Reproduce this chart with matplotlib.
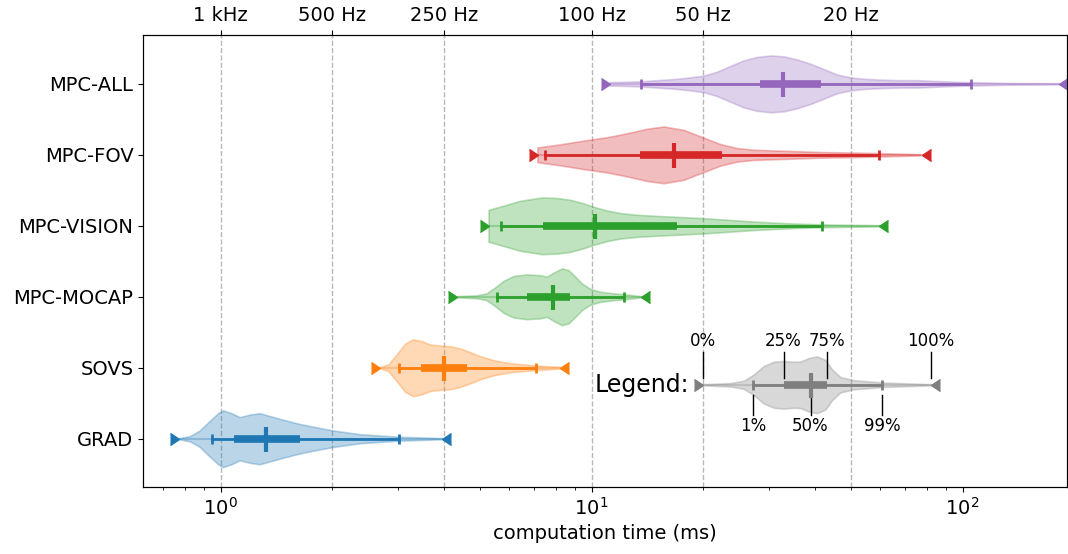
import numpy as np
import matplotlib.pyplot as plt

plt.rcParams['font.size'] = 14

# --- DATA ---
labels = ["GRAD", "SOVS", "MPC-MOCAP", "MPC-VISION", "MPC-FOV", "MPC-ALL"]
colors = ["tab:blue", "tab:orange", "tab:green", "tab:green", "tab:red", "tab:purple"]

# percentiles in ms: 0%, 1%, 25%, 50%, 75%, 99%, 100%
pct_grad = [0.772, 0.950, 1.084, 1.323, 1.634, 3.02, 3.94]
pct_sovs = [2.69, 3.03, 3.46, 4.01, 4.60, 7.08, 8.22]
pct_mocap = [4.33, 5.57, 6.71, 7.89, 8.75, 12.2, 13.6]
pct_vision = [5.30, 5.69, 7.41, 10.2, 17.0, 41.8, 59.5]
pct_fov = [7.16, 7.49, 13.5, 16.7, 22.5, 59.5, 77.5]
pct_all = [11.2, 13.6, 28.4, 32.7, 41.6, 105.5, 182.0]
pct_legend = [19.96, 27.3, 32.9, 38.9, 43.1, 60.7, 82.0]

# violin outlines: time (ms) and relative half-width
grad_t = [0.772, 0.825, 0.878, 0.934, 0.984, 1.015, 1.069, 1.125, 1.198, 1.274,
          1.356, 1.473, 1.634, 1.812, 2.010, 2.372, 3.018, 3.94]
grad_w = [0.02, 0.09, 0.29, 0.63, 0.90, 1.0, 0.90, 0.76, 0.85, 0.90,
          0.80, 0.67, 0.52, 0.40, 0.29, 0.16, 0.07, 0.02]

sovs_t = [2.69, 2.83, 2.98, 3.14, 3.30, 3.48, 3.67, 3.90, 4.15, 4.42,
          4.70, 5.00, 5.43, 6.03, 7.08, 8.22]
sovs_w = [0.02, 0.12, 0.47, 0.85, 1.0, 0.94, 0.82, 0.78, 0.76, 0.68,
          0.55, 0.41, 0.27, 0.16, 0.08, 0.03]

mocap_t = [4.33, 4.90, 5.21, 5.49, 5.78, 6.15, 6.68, 7.26, 7.57, 7.89,
           8.31, 8.66, 9.03, 9.41, 9.91, 10.54, 11.46, 12.44, 13.6]
mocap_w = [0.02, 0.05, 0.12, 0.33, 0.56, 0.73, 0.79, 0.76, 0.71, 0.85,
           1.0, 0.94, 0.71, 0.47, 0.28, 0.18, 0.12, 0.08, 0.02]

vision_t = [5.27, 5.78, 6.41, 7.34, 8.05, 8.75, 9.51, 10.12, 10.99, 11.94,
            13.24, 15.0, 20.04, 27.34, 33.63, 41.81, 59.46]
vision_w = [0.56, 0.71, 0.88, 1.0, 0.98, 0.92, 0.79, 0.67, 0.54, 0.45,
            0.39, 0.35, 0.27, 0.15, 0.09, 0.05, 0.02]

fov_t = [7.14, 8.22, 9.70, 10.99, 12.44, 14.09, 15.63, 17.70, 19.83, 22.23,
         24.65, 27.34, 33.63, 41.38, 50.90, 59.46, 77.0]
fov_w = [0.26, 0.37, 0.52, 0.62, 0.76, 0.92, 1.0, 0.88, 0.63, 0.38,
         0.24, 0.18, 0.14, 0.10, 0.08, 0.06, 0.02]

all_t = [11.17, 12.19, 13.60, 15.0, 16.63, 18.45, 20.04, 21.77, 23.65, 25.69,
         27.92, 30.33, 32.94, 35.79, 38.88, 42.24, 45.88, 49.85, 54.16, 60.07,
         68.03, 75.46, 85.42, 96.74, 105.5, 132.0, 182.0]
all_w = [0.06, 0.07, 0.09, 0.13, 0.17, 0.23, 0.29, 0.43, 0.63, 0.83,
         0.95, 1.0, 0.97, 0.86, 0.71, 0.52, 0.33, 0.23, 0.18, 0.15,
         0.13, 0.13, 0.10, 0.07, 0.06, 0.03, 0.02]

legend_t = [19.96, 23.65, 25.69, 27.34, 29.10, 30.96, 32.94, 35.06, 36.54, 38.48,
            40.53, 42.68, 44.48, 46.85, 50.90, 60.72, 81.95]
legend_w = [0.02, 0.06, 0.14, 0.36, 0.66, 0.81, 0.84, 0.81, 0.82, 0.94,
            1.0, 0.87, 0.54, 0.27, 0.16, 0.08, 0.02]

pct_names = ["0%", "1%", "25%", "50%", "75%", "99%", "100%"]

freq_ms = [1, 2, 4, 10, 20, 50]
freq_labels = ["1 kHz", "500 Hz", "250 Hz", "100 Hz", "50 Hz", "20 Hz"]

all_pcts = [pct_grad, pct_sovs, pct_mocap, pct_vision, pct_fov, pct_all]
all_prof = [(grad_t, grad_w), (sovs_t, sovs_w), (mocap_t, mocap_w),
            (vision_t, vision_w), (fov_t, fov_w), (all_t, all_w)]


def draw_violin(ax, y, pct, t, w, color):
    t = np.array(t)
    half = np.array(w) * 0.4
    ax.fill_between(t, y - half, y + half, facecolor=color, edgecolor=color,
                    alpha=0.3, linewidth=1.2, zorder=2)
    ax.plot([pct[0], pct[6]], [y, y], color=color, alpha=0.3, lw=1.5, zorder=3)
    ax.plot([pct[1], pct[5]], [y, y], color=color, lw=2, zorder=3)
    ax.plot([pct[2], pct[4]], [y, y], color=color, lw=5.5, solid_capstyle='butt', zorder=4)
    ax.plot([pct[3]], [y], marker='|', ms=18, mew=3, color=color, zorder=5)
    ax.plot([pct[1], pct[5]], [y, y], ls='none', marker='|', ms=7, mew=2, color=color, zorder=5)
    ax.plot([pct[0]], [y], ls='none', marker=5, ms=9, color=color, zorder=5)
    ax.plot([pct[6]], [y], ls='none', marker=4, ms=9, color=color, zorder=5)


fig = plt.figure(figsize=(10.68, 5.54), dpi=100)
ax = fig.add_axes([0.134, 0.121, 0.865, 0.816])
ax.set_xscale('log')

for ms in freq_ms:
    ax.axvline(ms, color='0.72', ls='--', lw=1, zorder=1)

for i, (pct, (t, w), c) in enumerate(zip(all_pcts, all_prof, colors)):
    draw_violin(ax, i, pct, t, w, c)

# legend violin
y_leg = 0.76
draw_violin(ax, y_leg, pct_legend, legend_t, legend_w, "tab:gray")
ax.text(pct_legend[0] * 0.92, y_leg, "Legend:", fontsize=17, ha='right', va='center')
for k in [0, 2, 4, 6]:
    ax.plot([pct_legend[k], pct_legend[k]], [y_leg + 0.09, y_leg + 0.46], color='black', lw=1)
    ax.text(pct_legend[k], y_leg + 0.49, pct_names[k], ha='center', va='bottom', fontsize=12)
for k in [1, 3, 5]:
    ax.plot([pct_legend[k], pct_legend[k]], [y_leg - 0.14, y_leg - 0.42], color='black', lw=1)
    ax.text(pct_legend[k], y_leg - 0.45, pct_names[k], ha='center', va='top', fontsize=12)

ax.set_xlim(pct_grad[0] * 0.8, pct_all[6] * 1.05)
ax.set_ylim(-0.68, 5.69)
ax.set_yticks(range(len(labels)))
ax.set_yticklabels(labels)
ax.set_xlabel("computation time (ms)")

top = ax.twiny()
top.set_xscale('log')
top.set_xlim(ax.get_xlim())
top.set_xticks(freq_ms)
top.set_xticklabels(freq_labels)
top.minorticks_off()

fig.savefig("out.png", dpi=100)
